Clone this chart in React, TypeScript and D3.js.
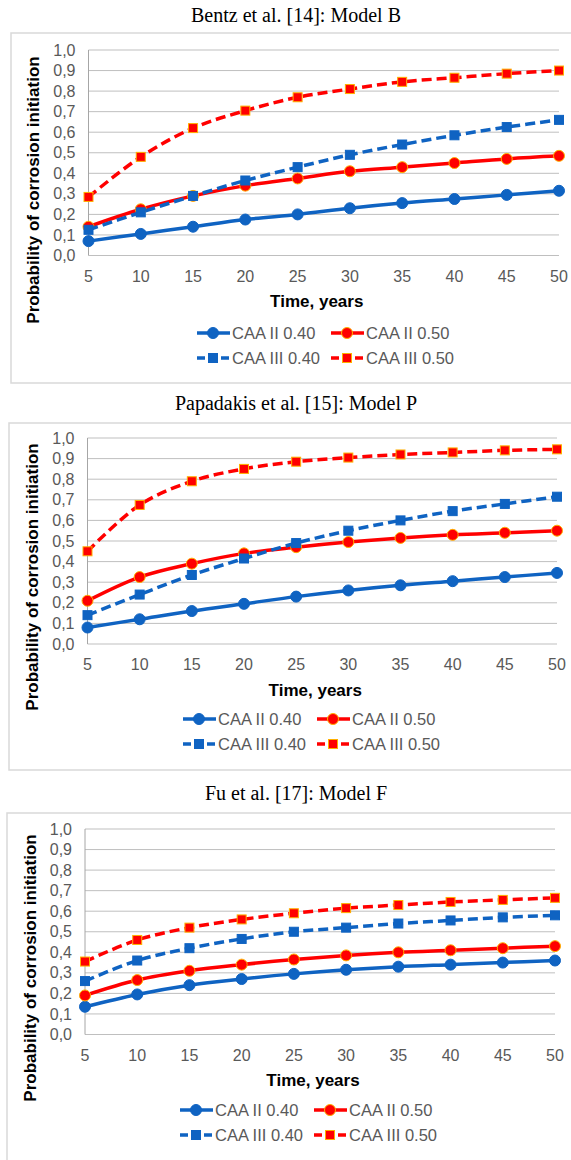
import React from 'react';
import * as d3 from 'd3';

const years = [5, 10, 15, 20, 25, 30, 35, 40, 45, 50];
const yTicks = [0, 0.1, 0.2, 0.3, 0.4, 0.5, 0.6, 0.7, 0.8, 0.9, 1.0];
const seriesNames = ['CAA II 0.40', 'CAA II 0.50', 'CAA III 0.40', 'CAA III 0.50'];

// Bentz et al. [14]: Model B
const bentzII40 = [0.07, 0.105, 0.14, 0.175, 0.2, 0.23, 0.255, 0.275, 0.295, 0.315];
const bentzII50 = [0.14, 0.225, 0.29, 0.34, 0.375, 0.41, 0.43, 0.45, 0.47, 0.485];
const bentzIII40 = [0.125, 0.21, 0.29, 0.365, 0.43, 0.49, 0.54, 0.585, 0.625, 0.66];
const bentzIII50 = [0.285, 0.48, 0.62, 0.705, 0.77, 0.81, 0.845, 0.865, 0.885, 0.9];

// Papadakis et al. [15]: Model P
const papaII40 = [0.08, 0.12, 0.16, 0.195, 0.23, 0.26, 0.285, 0.305, 0.325, 0.345];
const papaII50 = [0.21, 0.325, 0.39, 0.44, 0.47, 0.495, 0.515, 0.53, 0.54, 0.55];
const papaIII40 = [0.14, 0.24, 0.335, 0.415, 0.49, 0.55, 0.6, 0.645, 0.68, 0.715];
const papaIII50 = [0.45, 0.675, 0.79, 0.85, 0.885, 0.905, 0.92, 0.93, 0.94, 0.945];

// Fu et al. [17]: Model F
const fuII40 = [0.135, 0.195, 0.24, 0.27, 0.295, 0.315, 0.33, 0.34, 0.35, 0.36];
const fuII50 = [0.19, 0.265, 0.31, 0.34, 0.365, 0.385, 0.4, 0.41, 0.42, 0.43];
const fuIII40 = [0.26, 0.36, 0.42, 0.465, 0.5, 0.52, 0.54, 0.555, 0.57, 0.58];
const fuIII50 = [0.355, 0.46, 0.52, 0.56, 0.59, 0.615, 0.63, 0.645, 0.655, 0.665];

const BLUE = '#0F63C2';
const RED = '#FF0000';
const EDGE = '#FFB000';
const styles = [
  { color: BLUE, dash: null, marker: 'circle' },
  { color: RED, dash: null, marker: 'circle' },
  { color: BLUE, dash: '10,5', marker: 'square' },
  { color: RED, dash: '10,5', marker: 'square' },
];

const panels = [
  {
    title: 'Bentz et al. [14]: Model B',
    series: [bentzII40, bentzII50, bentzIII40, bentzIII50],
    titleY: 15, boxX: 11, boxTop: 33, boxBottom: 383,
    x0: 88.5, x1: 559, yTop: 50, yBottom: 255.5,
    yLabelX: 33, yLabelY: 190, legendX: 197, legendY: 333,
  },
  {
    title: 'Papadakis et al. [15]: Model P',
    series: [papaII40, papaII50, papaIII40, papaIII50],
    titleY: 403, boxX: 9, boxTop: 423, boxBottom: 770,
    x0: 87.5, x1: 557, yTop: 438, yBottom: 644,
    yLabelX: 32, yLabelY: 577, legendX: 183, legendY: 719,
  },
  {
    title: 'Fu et al. [17]: Model F',
    series: [fuII40, fuII50, fuIII40, fuIII50],
    titleY: 793, boxX: 7, boxTop: 813, boxBottom: 1175,
    x0: 85, x1: 555, yTop: 829, yBottom: 1034.5,
    yLabelX: 30, yLabelY: 968, legendX: 180, legendY: 1110,
  },
];

const Marker = ({ type, x, y, color }) => {
  const edge = color === RED ? EDGE : color;
  if (type === 'circle') {
    return <circle cx={x} cy={y} r={5.5} fill={color} stroke={edge} strokeWidth={1} />;
  }
  return <rect x={x - 4.5} y={y - 4.5} width={9} height={9} fill={color} stroke={edge} strokeWidth={1} />;
};

const Panel = ({ p }) => {
  const x = d3.scaleLinear().domain([5, 50]).range([p.x0, p.x1]);
  const y = d3.scaleLinear().domain([0, 1]).range([p.yBottom, p.yTop]);
  const line = d3.line<number>()
    .x((d, i) => x(years[i]))
    .y((d) => y(d))
    .curve(d3.curveCatmullRom.alpha(0.5));
  const fmt = (v: number) => v.toFixed(1).replace('.', ',');
  const font = "'Liberation Sans', Arial, sans-serif";
  const cx = (p.x0 + p.x1) / 2 - 7;

  return (
    <g>
      <text x={296} y={p.titleY} dy="0.35em" textAnchor="middle"
        fontFamily="'Liberation Serif', 'Times New Roman', serif" fontSize={20} fill="#000">
        {p.title}
      </text>
      <rect x={p.boxX} y={p.boxTop} width={600} height={p.boxBottom - p.boxTop}
        fill="#fff" stroke="#d9d9d9" strokeWidth={1.5} />
      {yTicks.map((t) => (
        <g key={t}>
          <line x1={p.x0} x2={p.x1} y1={y(t)} y2={y(t)} stroke="#bfbfbf" strokeWidth={1} />
          <text x={p.x0 - 13} y={y(t)} dy="0.35em" textAnchor="end"
            fontFamily={font} fontSize={16} fill="#595959">{fmt(t)}</text>
        </g>
      ))}
      <line x1={p.x0} x2={p.x0} y1={p.yTop} y2={p.yBottom} stroke="#a6a6a6" strokeWidth={1} />
      {years.map((t) => (
        <text key={t} x={x(t)} y={p.yBottom + 20.5} dy="0.35em" textAnchor="middle"
          fontFamily={font} fontSize={16} fill="#595959">{t}</text>
      ))}
      <text x={cx} y={p.yBottom + 46} dy="0.35em" textAnchor="middle"
        fontFamily={font} fontSize={17} fontWeight="bold" fill="#000">Time, years</text>
      <text transform={`translate(${p.yLabelX},${p.yLabelY}) rotate(-90)`} dy="0.35em" textAnchor="middle"
        fontFamily={font} fontSize={17} fontWeight="bold" fill="#000">
        Probability of corrosion initiation
      </text>
      {p.series.map((vals, si) => (
        <g key={si}>
          <path d={line(vals) || ''} fill="none" stroke={styles[si].color} strokeWidth={3.5}
            strokeDasharray={styles[si].dash || undefined} />
          {vals.map((v, i) => (
            <Marker key={i} type={styles[si].marker} x={x(years[i])} y={y(v)} color={styles[si].color} />
          ))}
        </g>
      ))}
      {seriesNames.map((name, si) => {
        const col = si % 2;
        const row = Math.floor(si / 2);
        const lx = p.legendX + col * 134;
        const ly = p.legendY + row * 25;
        return (
          <g key={name}>
            <line x1={lx} x2={lx + 33} y1={ly} y2={ly} stroke={styles[si].color} strokeWidth={3.5}
              strokeDasharray={styles[si].dash ? '8,4' : undefined} />
            <Marker type={styles[si].marker} x={lx + 16} y={ly} color={styles[si].color} />
            <text x={lx + 35} y={ly} dy="0.35em" fontFamily={font} fontSize={16.5} fill="#595959">{name}</text>
          </g>
        );
      })}
    </g>
  );
};

export default function App() {
  return (
    <svg width={571} height={1160} style={{ position: 'absolute', left: 0, top: 0, background: '#fff' }}>
      <rect x={0} y={0} width={571} height={1160} fill="#fff" />
      {panels.map((p) => <Panel key={p.title} p={p} />)}
    </svg>
  );
}
